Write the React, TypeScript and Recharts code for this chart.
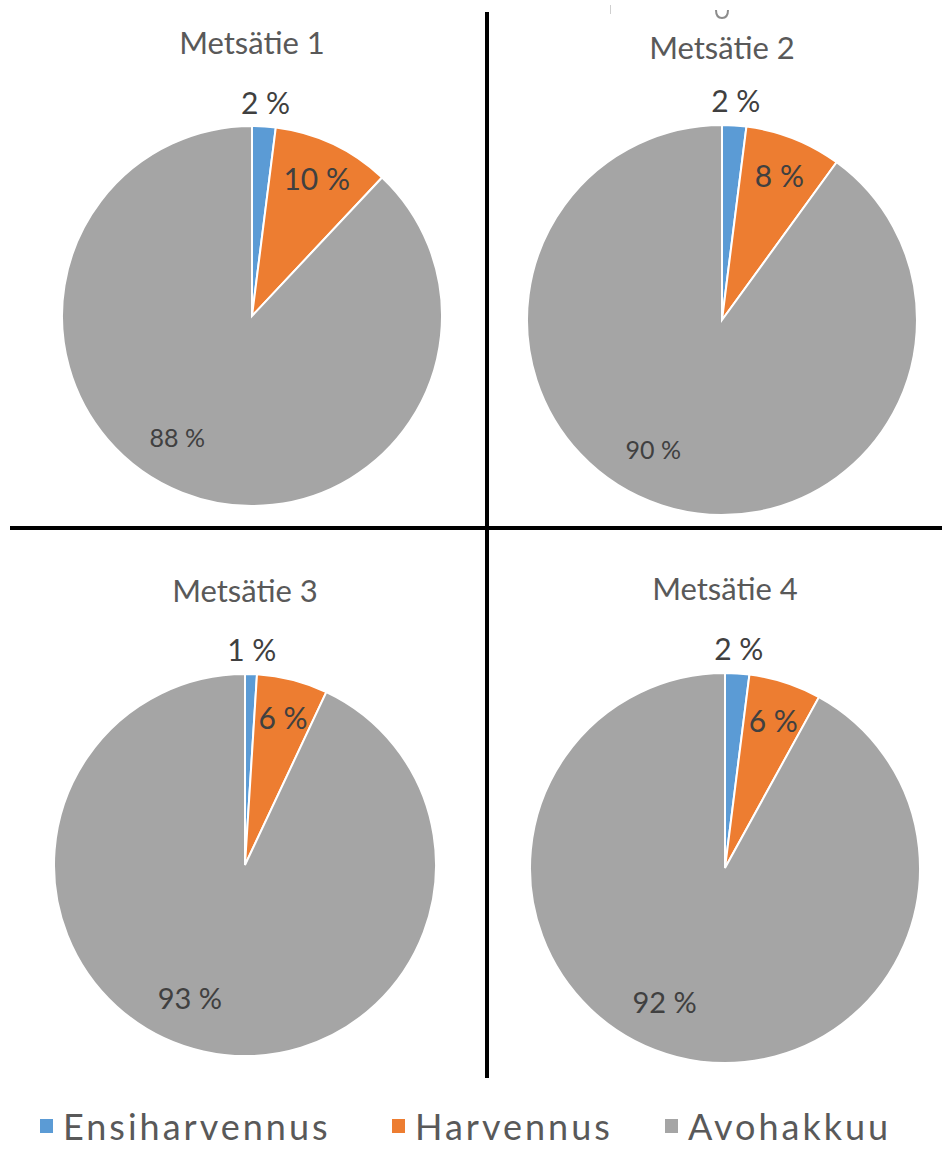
import { PieChart, Pie, Cell } from 'recharts'

// Harvesting method shares per forest road
const categories = ['Ensiharvennus', 'Harvennus', 'Avohakkuu']
const colors = ['#5B9BD5', '#ED7D31', '#A5A5A5']

const titles = ['Metsätie 1', 'Metsätie 2', 'Metsätie 3', 'Metsätie 4']
const road1 = [2, 10, 88]
const road2 = [2, 8, 90]
const road3 = [1, 6, 93]
const road4 = [2, 6, 92]

const FONT = 'Lato, "Open Sans", sans-serif'
const RAD = Math.PI / 180

// quadrant placement of each pie
const panels = [
  { values: road1, left: 0, top: 0, cx: 252, cy: 316, r: 190, titleY: 42, bigSize: 25 },
  { values: road2, left: 487, top: 0, cx: 235, cy: 320, r: 195, titleY: 47, bigSize: 25 },
  { values: road3, left: 0, top: 528, cx: 245, cy: 337, r: 191, titleY: 62, bigSize: 29 },
  { values: road4, left: 487, top: 528, cx: 238, cy: 340, r: 195, titleY: 60, bigSize: 29 },
]

// legend item x positions
const legendX = [40, 392, 665]

const makeLabel = (bigSize: number) => (props: any) => {
  const { cx, cy, midAngle, outerRadius, index, value } = props
  let angle = midAngle
  let dist = outerRadius * 0.8
  let size = 30
  if (index === 0) dist = outerRadius * 1.13
  if (index === 2) {
    angle = midAngle - 10
    dist = outerRadius * 0.75
    size = bigSize
  }
  const x = cx + dist * Math.cos(-angle * RAD)
  const y = cy + dist * Math.sin(-angle * RAD)
  return (
    <text
      x={x}
      y={y}
      fill="#404040"
      fontSize={size}
      fontFamily={FONT}
      textAnchor="middle"
      dominantBaseline="central"
    >
      {`${value} %`}
    </text>
  )
}

function RoadPie({ p, title }: { p: (typeof panels)[number]; title: string }) {
  const data = categories.map((name, i) => ({ name, value: p.values[i] }))
  return (
    <div style={{ position: 'absolute', left: p.left, top: p.top, width: 455, height: 560 }}>
      <div
        style={{
          position: 'absolute',
          left: p.cx - 130,
          top: p.titleY - 19,
          width: 260,
          textAlign: 'center',
          fontFamily: FONT,
          fontSize: 31,
          lineHeight: '38px',
          color: '#595959',
        }}
      >
        {title}
      </div>
      <PieChart width={455} height={560} margin={{ top: 0, right: 0, bottom: 0, left: 0 }}>
        <Pie
          data={data}
          dataKey="value"
          nameKey="name"
          cx={p.cx}
          cy={p.cy}
          outerRadius={p.r}
          startAngle={90}
          endAngle={-270}
          stroke="#ffffff"
          strokeWidth={2}
          labelLine={false}
          label={makeLabel(p.bigSize)}
          isAnimationActive={false}
        >
          {data.map((d, i) => (
            <Cell key={d.name} fill={colors[i]} />
          ))}
        </Pie>
      </PieChart>
    </div>
  )
}

export default function App() {
  return (
    <div
      style={{
        position: 'absolute',
        left: 0,
        top: 0,
        width: 942,
        height: 1149,
        background: '#ffffff',
        overflow: 'hidden',
      }}
    >
      {panels.map((p, i) => (
        <RoadPie key={titles[i]} p={p} title={titles[i]} />
      ))}

      {/* quadrant divider lines */}
      <div style={{ position: 'absolute', left: 485, top: 12, width: 4, height: 1066, background: '#000' }} />
      <div style={{ position: 'absolute', left: 10, top: 526, width: 932, height: 4, background: '#000' }} />
      <div style={{ position: 'absolute', left: 610, top: 5, width: 1, height: 9, background: '#cfcfcf' }} />
      <svg style={{ position: 'absolute', left: 712, top: 6, width: 20, height: 16 }}>
        <path d="M4 4 Q4 12 10 12 Q16 12 16 4" fill="none" stroke="#8c8c8c" strokeWidth={2} />
      </svg>

      {/* legend */}
      {categories.map((c, i) => (
        <div
          key={c}
          style={{
            position: 'absolute',
            left: legendX[i],
            top: 1106,
            height: 40,
            display: 'flex',
            alignItems: 'center',
            gap: 10,
            fontFamily: FONT,
            fontSize: 36,
            lineHeight: '40px',
            letterSpacing: 3,
            color: '#595959',
          }}
        >
          <div style={{ width: 13, height: 14, background: colors[i] }} />
          <span>{c}</span>
        </div>
      ))}
    </div>
  )
}
